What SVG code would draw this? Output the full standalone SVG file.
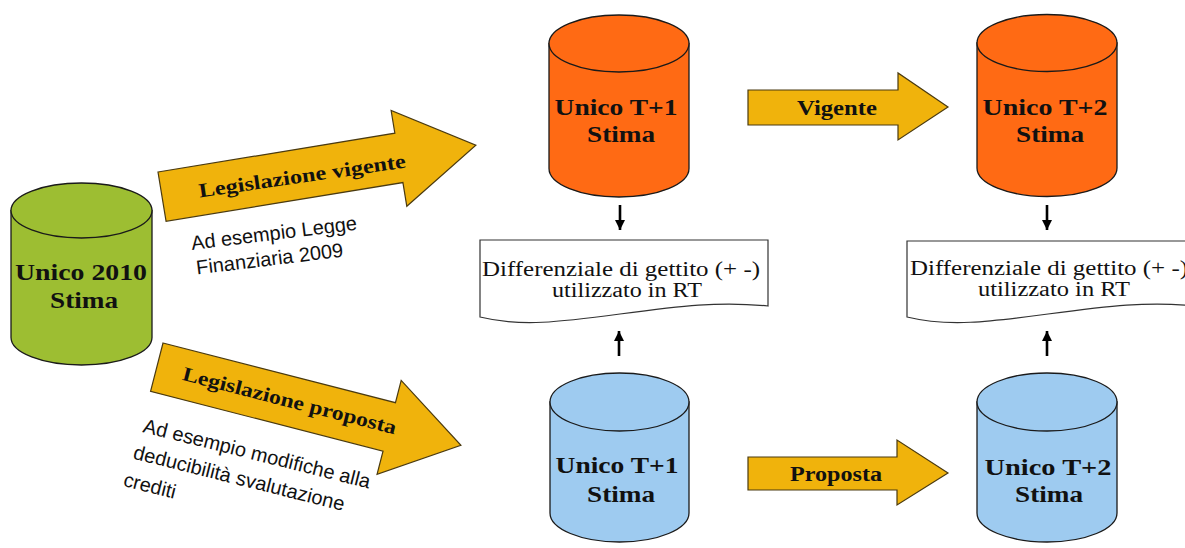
<svg xmlns="http://www.w3.org/2000/svg" width="1185" height="548" viewBox="0 0 1185 548">
<defs>
<style>
.cyl{stroke:#1a1a1a;stroke-width:1.3}
.green{fill:#9dbe32}
.orange{fill:#ff6a14}
.blue{fill:#9ecbf0}
.big{fill:#f0b30c;stroke:#4a3a10;stroke-width:1.2}
.ct{font-family:"Liberation Serif",serif;font-weight:bold;font-size:24px;fill:#111;text-anchor:middle}
.at{font-family:"Liberation Serif",serif;font-weight:bold;font-size:20px;fill:#111}
.doc{fill:#fff;stroke:#333;stroke-width:1.2}
.dt{font-family:"Liberation Serif",serif;font-size:20px;fill:#111}
.note{font-family:"Liberation Sans",Arial,sans-serif;font-size:20px;fill:#111}
.sm{stroke:#000;stroke-width:2.6;fill:none}
</style>
<marker id="ah" markerUnits="userSpaceOnUse" markerWidth="12" markerHeight="12" refX="10" refY="5" orient="auto">
<path d="M0,0 L10,5 L0,10 Z" fill="#000"/>
</marker>
</defs>
<rect width="1185" height="548" fill="#fff"/>

<g id="unico2010">
<path class="cyl green" d="M11,210.5 V337.5 A70.5,27.5 0 0 0 152,337.5 V210.5 Z"/>
<ellipse class="cyl green" cx="81.5" cy="210.5" rx="70.5" ry="27.5"/>
<text class="ct" x="81" y="280" textLength="132" lengthAdjust="spacingAndGlyphs">Unico 2010</text>
<text class="ct" x="84" y="308" textLength="68" lengthAdjust="spacingAndGlyphs">Stima</text>
</g>

<g id="t1vigente">
<path class="cyl orange" d="M549,43.5 V168.5 A70,28.5 0 0 0 689,168.5 V43.5 Z"/>
<ellipse class="cyl orange" cx="619" cy="43.5" rx="70" ry="28.5"/>
<text class="ct" x="616" y="115" textLength="123" lengthAdjust="spacingAndGlyphs">Unico T+1</text>
<text class="ct" x="621" y="142" textLength="68" lengthAdjust="spacingAndGlyphs">Stima</text>
</g>

<g id="t2vigente">
<path class="cyl orange" d="M977,43 V168 A70,28.5 0 0 0 1117,168 V43 Z"/>
<ellipse class="cyl orange" cx="1047" cy="43" rx="70" ry="28.5"/>
<text class="ct" x="1045" y="115" textLength="125" lengthAdjust="spacingAndGlyphs">Unico T+2</text>
<text class="ct" x="1050" y="142" textLength="68" lengthAdjust="spacingAndGlyphs">Stima</text>
</g>

<g id="t1proposta">
<path class="cyl blue" d="M550,402 V513 A69.5,29 0 0 0 689,513 V402 Z"/>
<ellipse class="cyl blue" cx="619.5" cy="402" rx="69.5" ry="29"/>
<text class="ct" x="617" y="473" textLength="123" lengthAdjust="spacingAndGlyphs">Unico T+1</text>
<text class="ct" x="621" y="502" textLength="68" lengthAdjust="spacingAndGlyphs">Stima</text>
</g>

<g id="t2proposta">
<path class="cyl blue" d="M977,402 V513 A70,29 0 0 0 1117,513 V402 Z"/>
<ellipse class="cyl blue" cx="1047" cy="402" rx="70" ry="29"/>
<text class="ct" x="1048" y="475" textLength="127" lengthAdjust="spacingAndGlyphs">Unico T+2</text>
<text class="ct" x="1049" y="502" textLength="68" lengthAdjust="spacingAndGlyphs">Stima</text>
</g>

<g id="diff1">
<path class="doc" d="M480,240 H768 V306 C720,301 680,306 620,314 C560,322 520,327 480,317 Z"/>
<text class="dt" x="482" y="276" textLength="278" lengthAdjust="spacingAndGlyphs">Differenziale di gettito (+ -)</text>
<text class="dt" x="552" y="297" textLength="150" lengthAdjust="spacingAndGlyphs">utilizzato in RT</text>
</g>

<g id="diff2">
<path class="doc" d="M907,241 H1196 V306 C1148,301 1108,306 1048,314 C988,322 948,327 907,317 Z"/>
<text class="dt" x="910" y="275" textLength="278" lengthAdjust="spacingAndGlyphs">Differenziale di gettito (+ -)</text>
<text class="dt" x="978" y="296" textLength="152" lengthAdjust="spacingAndGlyphs">utilizzato in RT</text>
</g>

<g id="connectors">
<g id="arrow-vigente-big" transform="translate(158,172) rotate(-9.3)">
<path class="big" d="M0,0 L240,0 L240,-23 L318,25 L240,74 L240,50 L0,50 Z"/>
<text class="at" x="37" y="32" textLength="209" lengthAdjust="spacingAndGlyphs" transform="rotate(1 37 32)">Legislazione vigente</text>
</g>
<g id="arrow-proposta-big" transform="translate(163,343) rotate(14.4)">
<path class="big" d="M0,0 L240,0 L240,-23 L314,25 L240,74 L240,50 L0,50 Z"/>
<text class="at" x="27" y="31" textLength="220" lengthAdjust="spacingAndGlyphs">Legislazione proposta</text>
</g>
<g id="arrow-vigente">
<path class="big" d="M748,90 H898 V73 L948,107 L898,140 V125 H748 Z"/>
<text class="at" x="797" y="115" textLength="80" lengthAdjust="spacingAndGlyphs">Vigente</text>
</g>
<g id="arrow-proposta">
<path class="big" d="M748,457 H897 V440 L948,473 L897,505 V490 H748 Z"/>
<text class="at" x="790" y="481" textLength="92" lengthAdjust="spacingAndGlyphs">Proposta</text>
</g>
<line class="sm" x1="620" y1="205" x2="620" y2="230" marker-end="url(#ah)"/>
<line class="sm" x1="619" y1="356" x2="619" y2="331" marker-end="url(#ah)"/>
<line class="sm" x1="1047" y1="205" x2="1047" y2="230" marker-end="url(#ah)"/>
<line class="sm" x1="1047" y1="356" x2="1047" y2="331" marker-end="url(#ah)"/>
</g>

<g id="note-vigente" transform="translate(192,250) rotate(-7)">
<text class="note" x="0" y="0">Ad esempio Legge</text>
<text class="note" x="2" y="25">Finanziaria 2009</text>
</g>
<g id="note-proposta" transform="translate(142,432) rotate(14)">
<text class="note" x="0" y="0">Ad esempio modifiche alla</text>
<text class="note" x="-3" y="28">deducibilità svalutazione</text>
<text class="note" x="-6" y="57">crediti</text>
</g>
</svg>
